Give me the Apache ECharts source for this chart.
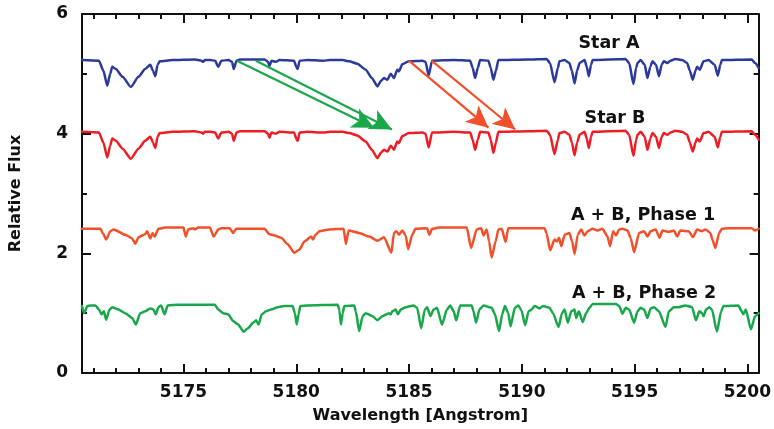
<!DOCTYPE html>
<html>
<head>
<meta charset="utf-8">
<script src="https://cdn.jsdelivr.net/npm/echarts@6/dist/echarts.min.js"></script>
<style>
  html, body { margin: 0; padding: 0; background: #fff; }
  #chart { width: 774px; height: 429px; }
</style>
</head>
<body>
<div id="chart"></div>
<script>
// Wavelength grid shared by the two single-star spectra (Angstrom)
const starWave = [5170.5,5171.25,5171.45,5171.62,5171.75,5171.84,5172.0,5172.3,5172.67,5173.0,
  5173.3,5173.53,5173.65,5173.75,5173.85,5173.95,5174.5,5175.5,5175.8,5175.87,
  5175.95,5176.2,5176.4,5176.54,5176.68,5177.0,5177.15,5177.23,5177.35,5177.5,
  5178.6,5178.75,5178.81,5178.9,5179.1,5179.25,5179.9,5180.0,5180.06,5180.15,
  5180.5,5181.18,5181.5,5182.06,5182.35,5182.7,5183.08,5183.35,5183.6,5183.75,
  5183.89,5184.04,5184.19,5184.33,5184.48,5184.55,5184.7,5184.99,5185.6,5185.73,
  5185.87,5186.02,5187.0,5187.71,5187.82,5187.93,5188.05,5188.15,5188.52,5188.62,
  5188.74,5188.85,5188.96,5190.28,5191.1,5191.25,5191.45,5191.6,5191.67,5191.89,
  5192.11,5192.22,5192.34,5192.45,5192.56,5192.78,5192.88,5192.97,5193.07,5193.14,
  5194.6,5194.76,5194.95,5195.07,5195.13,5195.27,5195.45,5195.57,5195.7,5195.79,
  5195.95,5196.08,5196.2,5196.3,5196.45,5196.59,5196.81,5197.11,5197.33,5197.45,
  5197.58,5197.7,5197.77,5197.89,5198.06,5198.28,5198.55,5198.69,5198.8,5198.87,
  5200.19,5200.34,5200.5];

const starAFlux = [5.23,5.22,5.05,4.80,5.00,5.12,5.08,4.95,4.78,4.95,
  5.08,5.15,5.05,4.96,5.15,5.21,5.23,5.24,5.22,5.20,
  5.23,5.23,5.22,5.12,5.22,5.23,5.20,5.08,5.22,5.24,
  5.24,5.20,5.13,5.22,5.20,5.23,5.22,5.12,5.08,5.22,
  5.23,5.22,5.23,5.23,5.21,5.17,5.07,4.93,4.79,4.88,
  4.93,4.90,5.00,4.93,5.07,5.04,5.16,5.21,5.22,5.20,
  4.97,5.22,5.23,5.22,5.10,4.93,5.10,5.23,5.22,5.10,
  4.90,5.05,5.23,5.24,5.25,5.18,4.86,5.10,5.21,5.23,
  5.18,5.05,4.84,5.05,5.18,5.23,5.12,4.96,5.15,5.23,
  5.25,5.18,4.83,5.10,5.18,5.23,5.15,4.93,5.12,5.21,
  5.15,4.96,5.15,5.21,5.18,5.22,5.25,5.23,5.18,5.05,
  4.90,5.05,5.12,5.07,5.21,5.23,5.15,4.97,5.15,5.23,
  5.24,5.18,5.10];

const starBFlux = [4.03,4.02,3.85,3.60,3.80,3.92,3.88,3.75,3.58,3.75,
  3.88,3.95,3.85,3.76,3.95,4.01,4.03,4.04,4.02,4.00,
  4.03,4.03,4.02,3.92,4.02,4.03,4.00,3.88,4.02,4.04,
  4.04,4.00,3.93,4.02,4.00,4.03,4.02,3.92,3.88,4.02,
  4.03,4.02,4.03,4.03,4.01,3.97,3.87,3.73,3.59,3.68,
  3.73,3.70,3.80,3.73,3.87,3.84,3.96,4.01,4.02,4.00,
  3.77,4.02,4.03,4.02,3.90,3.73,3.90,4.03,4.02,3.90,
  3.68,3.85,4.03,4.04,4.05,3.98,3.66,3.90,4.01,4.03,
  3.98,3.85,3.64,3.85,3.98,4.03,3.92,3.76,3.95,4.03,
  4.05,3.98,3.63,3.90,3.98,4.03,3.95,3.73,3.92,4.01,
  3.95,3.76,3.95,4.01,3.98,4.02,4.05,4.03,3.98,3.85,
  3.70,3.85,3.92,3.87,4.01,4.03,3.95,3.77,3.95,4.03,
  4.04,3.98,3.90];

// Combined spectrum A + B, phase 1
const phase1Wave = [5170.5,5171.32,5171.43,5171.57,5171.76,5171.91,5172.42,5172.72,5172.86,5173.01,
  5173.3,5173.38,5173.53,5173.63,5173.72,5173.89,5174.19,5175.0,5175.1,5175.21,
  5175.43,5175.51,5175.65,5176.17,5176.34,5176.54,5176.68,5177.05,5177.2,5177.34,
  5178.59,5178.81,5179.03,5179.33,5179.62,5179.91,5180.13,5180.37,5180.66,5180.74,
  5180.85,5181.03,5181.47,5182.1,5182.2,5182.32,5182.79,5183.23,5183.6,5183.89,
  5184.22,5184.33,5184.44,5184.55,5184.7,5184.85,5184.96,5185.14,5185.29,5185.8,
  5185.9,5186.02,5186.32,5187.56,5187.75,5188.0,5188.2,5188.3,5188.44,5188.55,
  5188.66,5188.84,5188.96,5189.11,5189.28,5189.4,5191.01,5191.09,5191.26,5191.45,
  5191.56,5191.65,5191.75,5191.9,5192.11,5192.23,5192.34,5192.48,5192.63,5192.78,
  5192.92,5193.14,5193.36,5193.58,5193.8,5193.91,5194.05,5194.17,5194.32,5194.46,
  5194.69,5194.83,5194.98,5195.2,5195.42,5195.57,5195.71,5195.93,5196.11,5196.23,
  5196.52,5196.74,5196.89,5197.03,5197.4,5197.59,5197.77,5197.99,5198.14,5198.36,
  5198.46,5198.58,5198.75,5198.87,5199.16,5200.19,5200.34,5200.5];
const phase1Flux = [2.41,2.41,2.33,2.23,2.37,2.40,2.31,2.25,2.16,2.27,
  2.32,2.37,2.25,2.34,2.28,2.41,2.43,2.43,2.28,2.40,
  2.42,2.40,2.43,2.43,2.28,2.40,2.42,2.42,2.34,2.41,
  2.41,2.32,2.30,2.26,2.15,2.01,2.06,2.20,2.28,2.23,
  2.31,2.37,2.40,2.41,2.16,2.38,2.34,2.28,2.21,2.27,
  2.01,2.34,2.37,2.31,2.38,2.30,2.07,2.31,2.41,2.42,
  2.31,2.41,2.43,2.43,2.09,2.40,2.42,2.30,2.40,2.20,
  1.93,2.20,2.40,2.41,2.19,2.42,2.42,2.34,2.05,2.23,
  2.20,2.26,2.12,2.31,2.34,2.20,1.99,2.31,2.40,2.30,
  2.37,2.41,2.38,2.41,2.28,2.12,2.37,2.30,2.40,2.41,
  2.38,2.25,2.02,2.34,2.37,2.28,2.37,2.40,2.26,2.38,
  2.36,2.38,2.28,2.38,2.37,2.27,2.40,2.37,2.40,2.34,
  2.22,2.09,2.34,2.41,2.42,2.42,2.38,2.41];

// Combined spectrum A + B, phase 2
const phase2Wave = [5170.5,5170.59,5170.74,5170.88,5171.1,5171.25,5171.37,5171.47,5171.57,5171.72,
  5171.84,5172.06,5172.42,5172.72,5172.89,5173.08,5173.3,5173.53,5173.67,5173.77,
  5173.89,5174.01,5174.16,5174.3,5174.77,5176.39,5176.54,5176.76,5176.98,5177.2,
  5177.42,5177.67,5177.86,5178.08,5178.22,5178.33,5178.47,5178.66,5178.88,5179.18,
  5179.47,5179.84,5179.94,5180.02,5180.1,5180.18,5180.5,5181.84,5181.91,5181.98,
  5182.06,5182.13,5182.57,5182.64,5182.79,5182.94,5183.08,5183.38,5183.6,5183.82,
  5184.11,5184.19,5184.26,5184.41,5184.51,5184.63,5184.85,5185.21,5185.36,5185.54,
  5185.7,5185.8,5185.95,5186.09,5186.24,5186.46,5186.68,5186.83,5186.98,5187.09,
  5187.27,5187.78,5187.86,5187.97,5188.12,5188.3,5188.66,5188.81,5188.99,5189.13,
  5189.25,5189.4,5189.5,5189.69,5189.84,5189.98,5190.15,5190.3,5190.43,5190.57,
  5190.79,5190.94,5191.23,5191.38,5191.63,5191.78,5191.9,5192.04,5192.19,5192.34,
  5192.41,5192.53,5192.7,5192.85,5193.0,5193.14,5194.17,5194.32,5194.46,5194.61,
  5194.76,5194.98,5195.13,5195.27,5195.42,5195.57,5195.71,5195.86,5196.08,5196.37,
  5196.52,5196.74,5196.96,5197.25,5197.55,5197.72,5197.87,5197.99,5198.06,5198.17,
  5198.31,5198.43,5198.65,5198.84,5198.94,5199.6,5199.75,5199.82,5199.93,5200.16,
  5200.34,5200.5];
const phase2Flux = [1.12,1.00,1.12,1.13,1.13,1.06,0.98,1.03,0.89,1.06,
  1.10,1.07,1.00,0.92,0.81,1.00,1.03,1.08,1.06,0.98,
  1.10,1.13,0.98,1.13,1.14,1.14,1.06,1.00,0.98,0.87,
  0.81,0.69,0.75,0.84,0.88,0.81,0.98,1.03,1.06,1.10,
  1.12,1.12,1.00,0.81,0.98,1.12,1.13,1.14,1.05,0.81,
  1.00,1.12,1.13,1.03,0.70,0.95,1.00,0.95,0.88,0.95,
  1.00,0.98,1.03,1.06,0.98,1.06,1.10,1.13,1.09,0.75,
  1.06,1.10,0.95,1.06,1.09,0.81,1.06,1.13,1.03,0.88,
  1.13,1.13,1.03,0.84,1.06,1.13,1.09,0.98,0.70,0.98,
  1.12,1.00,0.78,1.09,1.13,1.05,0.80,1.03,1.06,1.12,
  1.08,1.12,1.09,1.00,0.77,1.00,1.06,0.84,1.03,1.06,
  0.92,1.03,0.85,1.00,1.09,1.155,1.155,1.12,0.99,1.09,
  1.06,0.84,1.03,1.09,1.06,0.92,1.08,1.10,1.03,0.77,
  1.03,1.10,1.10,1.13,1.10,0.88,1.03,1.00,0.95,1.06,
  1.10,1.06,0.69,1.03,1.12,1.13,1.03,0.98,1.06,0.73,
  0.95,1.00];

// Axis ticks and labels
const xMajorTicks = [5175, 5180, 5185, 5190, 5195, 5200];
const xTickLabels = ['5175', '5180', '5185', '5190', '5195', '5200'];
const xMinorTicks = [5171,5172,5173,5174,5176,5177,5178,5179,5181,5182,5183,5184,
  5186,5187,5188,5189,5191,5192,5193,5194,5196,5197,5198,5199];
const yTickLabels = ['0', '2', '4', '6'];

// Doppler shift arrows: [start wavelength, start flux, end wavelength, end flux]
const greenArrows = [[5177.37, 5.22, 5183.45, 4.10], [5178.21, 5.22, 5184.24, 4.07]];
const redArrows = [[5184.99, 5.22, 5188.52, 4.10], [5186.0, 5.22, 5189.71, 4.07]];

const colors = { a: '#2b3a9b', b: '#ee1d25', p1: '#f2502a', p2: '#1aa74b', ink: '#111111' };
const FONT = 'DejaVu Sans';

const pairs = (w, f) => w.map((x, i) => [x, f[i]]);
const arrowData = (list, color) => list.map(a => [
  { coord: [a[0], a[1]], lineStyle: { color, width: 2.2, type: 'solid' }, itemStyle: { color } },
  { coord: [a[2], a[3]] }
]);

const chart = echarts.init(document.getElementById('chart'), null, { renderer: 'canvas' });

const xBase = {
  type: 'value', min: 5170.5, max: 5200.5, gridIndex: 0,
  splitLine: { show: false },
  axisLine: { show: true, lineStyle: { color: colors.ink, width: 2 } }
};
const yBase = {
  type: 'value', min: 0, max: 6, interval: 2,
  splitLine: { show: false },
  axisLine: { show: true, lineStyle: { color: colors.ink, width: 2 } },
  axisTick: { inside: true, length: 9, lineStyle: { color: colors.ink, width: 2 } },
  minorTick: { show: true, splitNumber: 2, length: 5, lineStyle: { color: colors.ink, width: 2 } },
  minorSplitLine: { show: false }
};

const lineSeries = (name, w, f, color, extra) => Object.assign({
  name, type: 'line', data: pairs(w, f), xAxisIndex: 0, yAxisIndex: 0,
  showSymbol: false, symbol: 'none', silent: true,
  smooth: 0.2, smoothMonotone: 'x',
  lineStyle: { color, width: 2.5, join: 'round', cap: 'round' }, itemStyle: { color }, z: 3
}, extra || {});

const markLineFor = (list, color) => ({
  silent: true, symbol: ['none', 'arrow'], symbolSize: [16, 22],
  label: { show: false }, emphasis: { disabled: true },
  lineStyle: { color, width: 2.2, type: 'solid' },
  data: arrowData(list, color)
});

const tickText = { fontFamily: FONT, fontSize: 17, fontWeight: 'bold', color: colors.ink };
const nameText = { fontFamily: FONT, fontSize: 16, fontWeight: 'bold', color: colors.ink };
const tagFont = 'bold 17.5px "DejaVu Sans"';

chart.setOption({
  animation: false,
  backgroundColor: '#ffffff',
  grid: { left: 81, right: 12, top: 14, bottom: 55.5, containLabel: false },
  xAxis: [
    Object.assign({}, xBase, {
      position: 'bottom',
      name: 'Wavelength [Angstrom]', nameLocation: 'middle', nameGap: 35,
      nameTextStyle: nameText,
      axisTick: { inside: true, length: 9, customValues: xMajorTicks, lineStyle: { color: colors.ink, width: 2 } },
      axisLabel: Object.assign({
        customValues: xMajorTicks, margin: 11,
        formatter: v => xTickLabels[xMajorTicks.indexOf(v)] || ''
      }, tickText)
    }),
    Object.assign({}, xBase, {
      position: 'bottom', axisLine: { show: false },
      axisTick: { inside: true, length: 5, customValues: xMinorTicks, lineStyle: { color: colors.ink, width: 2 } },
      axisLabel: { show: false }
    }),
    Object.assign({}, xBase, {
      position: 'top',
      axisTick: { inside: true, length: 9, customValues: xMajorTicks, lineStyle: { color: colors.ink, width: 2 } },
      axisLabel: { show: false }
    }),
    Object.assign({}, xBase, {
      position: 'top', axisLine: { show: false },
      axisTick: { inside: true, length: 5, customValues: xMinorTicks, lineStyle: { color: colors.ink, width: 2 } },
      axisLabel: { show: false }
    })
  ],
  yAxis: [
    Object.assign({}, yBase, {
      position: 'left',
      name: 'Relative Flux', nameLocation: 'middle', nameGap: 58, nameRotate: 90,
      nameTextStyle: nameText,
      axisLabel: Object.assign({
        margin: 14,
        formatter: v => yTickLabels[v / 2] || ''
      }, tickText)
    }),
    Object.assign({}, yBase, { position: 'right', axisLabel: { show: false } })
  ],
  series: [
    lineSeries('Star A', starWave, starAFlux, colors.a),
    lineSeries('Star B', starWave, starBFlux, colors.b),
    lineSeries('A + B, Phase 1', phase1Wave, phase1Flux, colors.p1, { markLine: markLineFor(redArrows, colors.p1) }),
    lineSeries('A + B, Phase 2', phase2Wave, phase2Flux, colors.p2, { markLine: markLineFor(greenArrows, colors.p2) })
  ],
  graphic: [
    { type: 'text', x: 609, y: 43, silent: true, style: { text: 'Star A', font: tagFont, fill: colors.ink, align: 'center', verticalAlign: 'middle' } },
    { type: 'text', x: 615, y: 118, silent: true, style: { text: 'Star B', font: tagFont, fill: colors.ink, align: 'center', verticalAlign: 'middle' } },
    { type: 'text', x: 643, y: 215, silent: true, style: { text: 'A + B, Phase 1', font: tagFont, fill: colors.ink, align: 'center', verticalAlign: 'middle' } },
    { type: 'text', x: 644, y: 293, silent: true, style: { text: 'A + B, Phase 2', font: tagFont, fill: colors.ink, align: 'center', verticalAlign: 'middle' } }
  ]
});
</script>
</body>
</html>
